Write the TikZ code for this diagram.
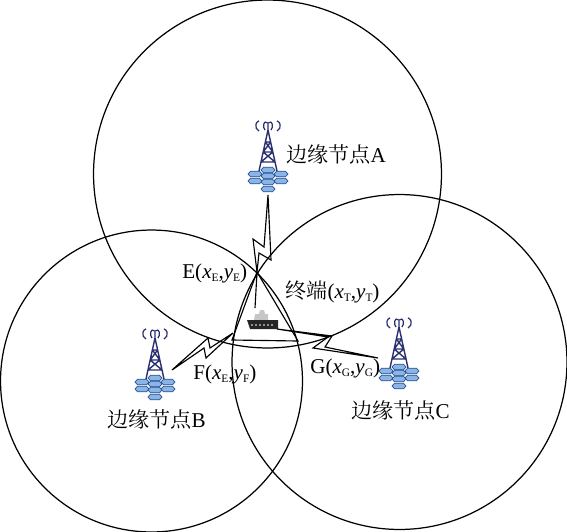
\documentclass[tikz,border=0pt]{standalone}
\usepackage{fontspec}
\setmainfont{Liberation Serif}
\newfontfamily\cjk{Noto Serif CJK SC}
\definecolor{hexblue}{RGB}{140,180,228}
\definecolor{hexedge}{RGB}{38,84,150}
\definecolor{mastblue}{RGB}{42,48,112}
\newcommand{\lowidx}[1]{\raisebox{-0.35ex}{\fontsize{6.5}{7}\selectfont #1}}
\newcommand{\pos}[2]{(\textit{x}\lowidx{#1},\textit{y}\lowidx{#2})}
\tikzset{
cover/.style={
    draw,
    circle,
    line width=0.7pt,
    inner sep=0pt
},
caption/.style={
    font=\fontsize{12}{14}\selectfont,
    inner sep=0pt
},
bolt/.style={
    line width=0.65pt,
    line join=miter
},
ranging/.style={
    line width=0.65pt
},
hexcell/.pic={
    \draw[fill=hexblue,draw=hexedge,line width=0.4pt]
        (-7,0) -- (-4.5,-2.8) -- (4.5,-2.8) -- (7,0) -- (4.5,2.8) -- (-4.5,2.8) -- cycle;
},
tower/.pic={
    % hexagon field under the mast
    \foreach \x/\y in {0/40,-13/44,13/44,0/46,-13/51,13/51,0/52,0/59}
        \pic at (\x,\y) {hexcell};
    % mast
    \draw[mastblue,line width=0.8pt]
        (0,-6) -- (0,0) -- (-9,41) (0,0) -- (9,41)
        (-2.6,12) -- (2.6,12) (-4.8,22) -- (4.8,22) (-7,32) -- (7,32)
        (-2.6,12) -- (4.8,22) (2.6,12) -- (-4.8,22)
        (-4.8,22) -- (7,32) (4.8,22) -- (-7,32);
    % waves
    \draw[mastblue,line width=0.7pt]
        (-3,0) arc[start angle=120,end angle=240,x radius=3,y radius=4.6]
        (3,0) arc[start angle=60,end angle=-60,x radius=3,y radius=4.6]
        (-9,1) arc[start angle=110,end angle=250,x radius=5,y radius=5.4]
        (9,1) arc[start angle=70,end angle=-70,x radius=5,y radius=5.4]
        (-3,-8) to[bend right=40] (3,-8);
}}

\begin{document}
\begin{tikzpicture}[x=0.02cm,y=-0.02cm]
\useasboundingbox (0,0) rectangle (567,531);

\node[cover,minimum size=6.96cm] (coverA) at (267.5,174) {};
\node[cover,minimum size=6.04cm] (coverB) at (151.5,381) {};
\node[cover,minimum size=6.70cm] (coverC) at (399.5,362) {};

\pic at (268,130) {tower};
\pic at (155,338) {tower};
\pic at (399,327) {tower};

\coordinate (towerA) at (268,195);
\coordinate (towerB) at (172,370);
\coordinate (towerC) at (378,358);
\coordinate (pointE) at (257,272);
\coordinate (pointF) at (232,340);
\coordinate (pointG) at (298,341);
\coordinate (boltB) at (233,333);
\coordinate (shipTop) at (255,308);
\coordinate (shipStern) at (277,329);

% ship
\fill[gray!45] (254,320) -- (255,314) -- (259,314) -- (260,310) -- (264,310) -- (265,314) -- (268,314) -- (268,320) -- cycle;
\fill[black!85] (247,320) -- (278,320) -- (278,329) -- (250,329) -- cycle;
\foreach \x in {252,256,...,272}
    \fill[white] (\x,325) circle[radius=0.8];

% radio links
\draw[bolt] (towerA) -- (271,260) -- (259,253) -- (pointE) -- (253,239) -- (264,247) -- cycle;
\draw[bolt] (pointE) -- (shipTop);
\draw[bolt] (towerB) -- (208,338) -- (210,348) -- (boltB) -- (206,358) -- (204,348) -- cycle;
\draw[bolt] (shipStern) -- (332,336) -- (325,347) -- (towerC) -- (313,348) -- (328,337) -- cycle;

% ranging triangle
\draw[ranging] (pointE) -- (pointF) -- (pointG) -- cycle;

\node[caption,anchor=west] (labA) at (286,155) {{\cjk 边缘节点}A};
\node[caption,anchor=west] (labB) at (107,420) {{\cjk 边缘节点}B};
\node[caption,anchor=west] (labC) at (351,411) {{\cjk 边缘节点}C};
\node[caption,anchor=west] (labE) at (182,273) {E\pos{E}{E}};
\node[caption,anchor=west] (labF) at (193,374) {F\pos{E}{F}};
\node[caption,anchor=west] (labG) at (310,368) {G\pos{G}{G}};
\node[caption,anchor=west] (labT) at (285,292) {{\cjk 终端}\pos{T}{T}};
\end{tikzpicture}
\end{document}
